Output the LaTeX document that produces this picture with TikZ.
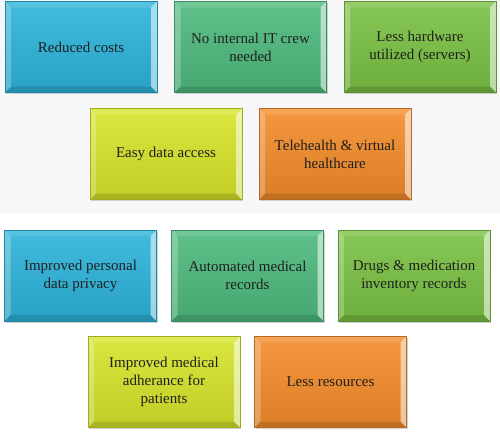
\documentclass[tikz,border=0pt]{standalone}
\usepackage{fontspec}
\setmainfont{Liberation Serif}
\usepackage{tikz}
\usetikzlibrary{shadows}
\definecolor{tileblue}{HTML}{2CB3DA}
\definecolor{tileteal}{HTML}{4DBA7C}
\definecolor{tilelime}{HTML}{7AC143}
\definecolor{tileyellow}{HTML}{D6E42A}
\definecolor{tileorange}{HTML}{F38C2A}
\definecolor{panelgrey}{HTML}{F7F7FA}
\tikzset{
  bevel/.style={path picture={
      \fill[white, opacity=0.12] (path picture bounding box.north west) -- ([xshift=6pt,yshift=-6pt]path picture bounding box.north west) -- ([xshift=-6pt,yshift=-6pt]path picture bounding box.north east) -- (path picture bounding box.north east) -- cycle;
      \fill[white, opacity=0.25] (path picture bounding box.north west) -- ([xshift=6pt,yshift=-6pt]path picture bounding box.north west) -- ([xshift=6pt,yshift=6pt]path picture bounding box.south west) -- (path picture bounding box.south west) -- cycle;
      \fill[white, opacity=0.55] (path picture bounding box.north east) -- ([xshift=-6pt,yshift=-6pt]path picture bounding box.north east) -- ([xshift=-6pt,yshift=6pt]path picture bounding box.south east) -- (path picture bounding box.south east) -- cycle;
      \fill[black, opacity=0.12] (path picture bounding box.south west) -- ([xshift=6pt,yshift=6pt]path picture bounding box.south west) -- ([xshift=-6pt,yshift=6pt]path picture bounding box.south east) -- (path picture bounding box.south east) -- cycle;
    }},
  tile/.style={draw=#1!75!black, line width=0.4pt, top color=#1!90!white, bottom color=#1!90!black,
    minimum width=152pt, minimum height=91pt, inner sep=2pt, align=center, text=black!88,
    font=\fontsize{15}{18}\selectfont, bevel,
    drop shadow={shadow xshift=1pt, shadow yshift=-1.5pt, opacity=0.35}},
}
\begin{document}
\begin{tikzpicture}[x=1pt, y=-1pt]
		\useasboundingbox (0,0) rectangle (500,432);
		% grey panel behind the upper group
		\fill[panelgrey] (0,0) rectangle (500,213);
		% tiles: name / centre x / centre y / colour / text
		\foreach \name/\x/\y/\col/\lab in {
			costs/81/47/tileblue/Reduced costs,
			crew/250.5/47/tileteal/{No internal IT crew\\needed},
			hardware/420/47/tilelime/{Less hardware\\utilized (servers)},
			access/166/154/tileyellow/Easy data access,
			tele/335/154/tileorange/{Telehealth \& virtual\\healthcare},
			privacy/80.5/275.5/tileblue/{Improved personal\\data privacy},
			records/247.5/275.5/tileteal/{Automated medical\\records},
			drugs/414/275.5/tilelime/{Drugs \& medication\\inventory records},
			adherance/164/382/tileyellow/{Improved medical\\adherance for\\patients},
			resources/330.5/382/tileorange/Less resources} {
			\node[tile=\col] (\name) at (\x,\y) {\lab};
		}
	\end{tikzpicture}
\end{document}
